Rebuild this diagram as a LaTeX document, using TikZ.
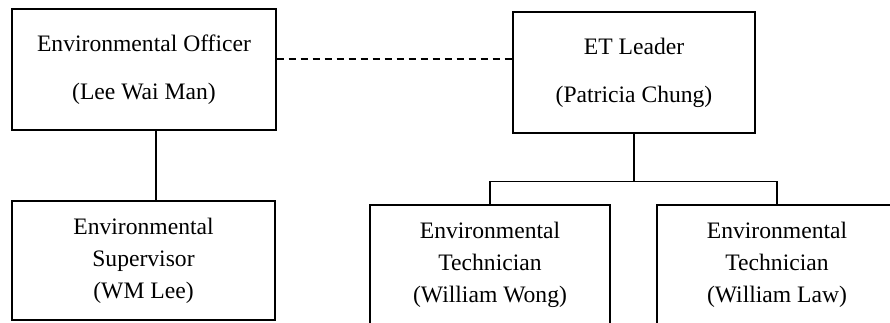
\documentclass[tikz,border=0pt]{standalone}
\usepackage{fontspec}
\setmainfont{Liberation Serif}

\begin{document}
\begin{tikzpicture}[x=1pt, y=-1pt, line width=1.3pt,
	topbox/.style={draw, align=center, minimum height=121pt, inner sep=0pt,
		font=\fontsize{23.6}{48}\selectfont},
	lowbox/.style={draw, align=center, minimum height=119pt, inner sep=0pt,
		font=\fontsize{23.6}{32}\selectfont}]
	
	\useasboundingbox (0,0) rectangle (890,322);
	\clip (0,0) rectangle (890,322);
	
	\node[topbox, minimum width=264pt] (officer) at (144,69.5) {Environmental Officer\\(Lee Wai Man)};
	\node[topbox, minimum width=242pt] (leader) at (634,72.5) {ET Leader\\(Patricia Chung)};
	
	\node[lowbox, minimum width=263pt] (supervisor) at (143.5,260.5) {Environmental\\Supervisor\\(WM Lee)};
	\node[lowbox, minimum width=240pt] (wong) at (490,264.5) {Environmental\\Technician\\(William Wong)};
	\node[lowbox, minimum width=240pt] (law) at (777,264.5) {Environmental\\Technician\\(William Law)};
	
	\draw[dash pattern=on 7pt off 5pt] ([yshift=10.5pt]officer.east) -- ([yshift=10.5pt]officer.east -| leader.west);
	\draw ([xshift=12pt]officer.south) -- ([xshift=12pt]officer.south |- supervisor.north);
	
	\coordinate (bar) at (634,181.5);
	\draw (leader.south) -- (bar);
	\draw (wong.north) |- (bar) -| (law.north);
	
\end{tikzpicture}
\end{document}
